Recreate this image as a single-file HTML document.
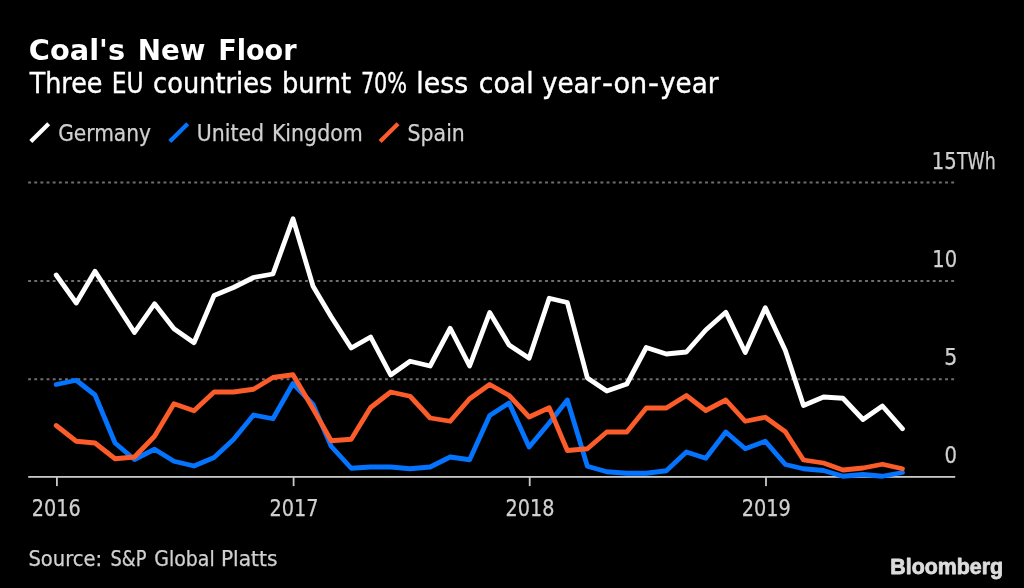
<!DOCTYPE html>
<html lang="en">
<head>
<meta charset="utf-8">
<title>Coal's New Floor</title>
<style>
html,body{margin:0;padding:0;background:#000;}
body{width:1024px;height:588px;overflow:hidden;}
svg{display:block;}
svg text{font-family:"DejaVu Sans Condensed","DejaVu Sans","Liberation Sans",sans-serif;white-space:pre;}
.t{fill:#fff;font-weight:bold;font-family:"DejaVu Sans","Liberation Sans",sans-serif;}
.s{fill:#fff;stroke:#fff;stroke-width:0.35;}
.lg,.ax,.src{fill:#d0d0d0;stroke:#d0d0d0;stroke-width:0.25;}
.bb{fill:#dcdcdc;font-family:"Liberation Sans",sans-serif;font-weight:bold;stroke:#dcdcdc;stroke-width:0.8;stroke-linejoin:round;}
.grid line{stroke:#6e6e6e;stroke-width:2;stroke-dasharray:2.9 3.254;}
.ln{fill:none;stroke-width:4.8;stroke-linejoin:round;stroke-linecap:round;}
</style>
</head>
<body>
<svg width="1024" height="588" viewBox="0 0 1024 588">
<rect x="0" y="0" width="1024" height="588" fill="#000"/>
<text class="t" y="59.6" font-size="28.6"><tspan x="28.85" textLength="96.20" lengthAdjust="spacingAndGlyphs">Coal's</tspan> <tspan x="137.80" textLength="67.74" lengthAdjust="spacingAndGlyphs">New</tspan> <tspan x="218.16" textLength="78.46" lengthAdjust="spacingAndGlyphs">Floor</tspan></text>
<text class="s" y="93.3" font-size="27.7"><tspan x="29.68" textLength="72.80" lengthAdjust="spacingAndGlyphs">Three</tspan> <tspan x="111.67" textLength="31.86" lengthAdjust="spacingAndGlyphs">EU</tspan> <tspan x="153.11" textLength="119.25" lengthAdjust="spacingAndGlyphs">countries</tspan> <tspan x="281.91" textLength="69.15" lengthAdjust="spacingAndGlyphs">burnt</tspan> <tspan x="360.88" textLength="46.26" lengthAdjust="spacingAndGlyphs">70%</tspan> <tspan x="416.37" textLength="51.78" lengthAdjust="spacingAndGlyphs">less</tspan> <tspan x="478.81" textLength="54.81" lengthAdjust="spacingAndGlyphs">coal</tspan> <tspan x="542.02" textLength="58.38" lengthAdjust="spacingAndGlyphs">year</tspan><tspan x="602.14" textLength="11.04" lengthAdjust="spacingAndGlyphs">-</tspan><tspan x="613.55" textLength="33.66" lengthAdjust="spacingAndGlyphs">on</tspan><tspan x="648.04" textLength="11.04" lengthAdjust="spacingAndGlyphs">-</tspan><tspan x="660.12" textLength="58.38" lengthAdjust="spacingAndGlyphs">year</tspan></text>
<g class="legend">
<line x1="30.8" y1="141.55" x2="48.7" y2="123.65" stroke="#fff" stroke-width="4.2"/>
<text class="lg" y="140.9" font-size="23.1"><tspan x="58.13" textLength="92.87" lengthAdjust="spacingAndGlyphs">Germany</tspan></text>
<line x1="169.8" y1="141.55" x2="187.7" y2="123.65" stroke="#0474ff" stroke-width="4.2"/>
<text class="lg" y="140.9" font-size="23.1"><tspan x="196.65" textLength="67.45" lengthAdjust="spacingAndGlyphs">United</tspan> <tspan x="271.92" textLength="90.84" lengthAdjust="spacingAndGlyphs">Kingdom</tspan></text>
<line x1="380.1" y1="141.55" x2="398" y2="123.65" stroke="#fb5c2a" stroke-width="4.2"/>
<text class="lg" y="140.9" font-size="23.1"><tspan x="407.61" textLength="57.24" lengthAdjust="spacingAndGlyphs">Spain</tspan></text>
</g>
<g class="grid">
<line x1="28.1" y1="182.4" x2="955.2" y2="182.4"/>
<line x1="28.1" y1="280.9" x2="955.2" y2="280.9"/>
<line x1="28.1" y1="379.2" x2="955.2" y2="379.2"/>
</g>
<g class="axis" fill="#c8c8c8">
<rect x="28.2" y="476" width="927" height="1.8"/>
<rect x="56" y="476.5" width="1.8" height="9.6"/>
<rect x="292.7" y="476.5" width="1.8" height="9.6"/>
<rect x="528.8" y="476.5" width="1.8" height="9.6"/>
<rect x="765.1" y="476.5" width="1.8" height="9.6"/>
</g>
<g class="ylab">
<text class="ax" y="168.5" font-size="23.3"><tspan x="931.83" textLength="24.99" lengthAdjust="spacingAndGlyphs">15</tspan><tspan x="956.99" textLength="38.76" lengthAdjust="spacingAndGlyphs">TWh</tspan></text>
<text class="ax" y="267.0" font-size="23.3"><tspan x="932.34" textLength="24.89" lengthAdjust="spacingAndGlyphs">10</tspan></text>
<text class="ax" y="365.3" font-size="23.3"><tspan x="944.28" textLength="13.07" lengthAdjust="spacingAndGlyphs">5</tspan></text>
<text class="ax" y="462.5" font-size="23.3"><tspan x="944.41" textLength="12.48" lengthAdjust="spacingAndGlyphs">0</tspan></text>
</g>
<g class="xlab">
<text class="ax" y="515.6" font-size="23.3"><tspan x="31.72" textLength="48.90" lengthAdjust="spacingAndGlyphs">2016</tspan></text>
<text class="ax" y="515.6" font-size="23.3"><tspan x="269.46" textLength="49.09" lengthAdjust="spacingAndGlyphs">2017</tspan></text>
<text class="ax" y="515.6" font-size="23.3"><tspan x="505.47" textLength="48.90" lengthAdjust="spacingAndGlyphs">2018</tspan></text>
<text class="ax" y="515.6" font-size="23.3"><tspan x="741.71" textLength="49.12" lengthAdjust="spacingAndGlyphs">2019</tspan></text>
</g>
<polyline class="ln" stroke="#ffffff" points="56.20,275.00 76.26,303.00 95.02,271.25 115.08,302.50 134.49,332.50 154.54,303.75 173.95,328.75 194.01,342.75 214.07,295.50 233.47,287.50 253.53,277.50 272.94,274.00 293.00,218.75 313.05,286.25 331.17,316.75 351.23,348.00 370.64,337.00 390.69,375.00 410.10,361.25 430.16,366.00 450.22,328.25 469.63,366.00 489.68,312.60 509.09,345.00 529.15,358.25 549.21,298.25 567.32,302.50 587.38,378.00 606.79,391.00 626.84,384.00 646.25,347.50 666.31,354.00 686.37,352.00 705.78,330.00 725.83,312.25 745.24,352.50 765.30,307.75 785.36,350.50 803.47,405.50 823.53,397.00 842.94,398.25 863.00,419.50 882.41,406.00 902.46,428.75"/>
<polyline class="ln" stroke="#0474ff" points="56.20,384.50 76.26,380.25 95.02,395.00 115.08,443.00 134.49,459.50 154.54,449.25 173.95,461.25 194.01,466.00 214.07,457.50 233.47,439.50 253.53,415.00 272.94,418.75 293.00,383.50 313.05,404.50 331.17,446.25 351.23,468.25 370.64,467.00 390.69,467.00 410.10,468.75 430.16,467.00 450.22,457.00 469.63,459.75 489.68,415.50 509.09,403.00 529.15,447.00 549.21,423.00 567.32,400.00 587.38,466.25 606.79,471.75 626.84,473.25 646.25,473.25 666.31,470.75 686.37,452.00 705.78,458.25 725.83,432.00 745.24,448.75 765.30,441.25 785.36,464.50 803.47,468.75 823.53,470.50 842.94,476.25 863.00,474.50 882.41,476.25 902.46,472.50"/>
<polyline class="ln" stroke="#fb5c2a" points="56.20,425.50 76.26,441.25 95.02,443.00 115.08,458.75 134.49,457.00 154.54,436.25 173.95,403.75 194.01,410.75 214.07,392.00 233.47,392.00 253.53,389.25 272.94,377.50 293.00,374.75 313.05,408.75 331.17,440.75 351.23,439.25 370.64,407.50 390.69,392.00 410.10,396.25 430.16,418.00 450.22,421.25 469.63,398.75 489.68,384.50 509.09,395.50 529.15,417.00 549.21,407.75 567.32,450.50 587.38,448.75 606.79,432.00 626.84,432.00 646.25,408.00 666.31,408.00 686.37,395.50 705.78,410.50 725.83,400.00 745.24,421.25 765.30,417.25 785.36,431.75 803.47,460.00 823.53,463.00 842.94,470.00 863.00,468.00 882.41,464.25 902.46,468.75"/>
<text class="src" y="566.2" font-size="20.6"><tspan x="28.41" textLength="73.63" lengthAdjust="spacingAndGlyphs">Source:</tspan> <tspan x="110.51" textLength="35.93" lengthAdjust="spacingAndGlyphs">S&amp;P</tspan> <tspan x="154.20" textLength="60.49" lengthAdjust="spacingAndGlyphs">Global</tspan> <tspan x="220.95" textLength="56.52" lengthAdjust="spacingAndGlyphs">Platts</tspan></text>
<text class="bb" y="574" font-size="21.4"><tspan x="890.32" textLength="112.78" lengthAdjust="spacingAndGlyphs">Bloomberg</tspan></text>
</svg>
</body>
</html>
